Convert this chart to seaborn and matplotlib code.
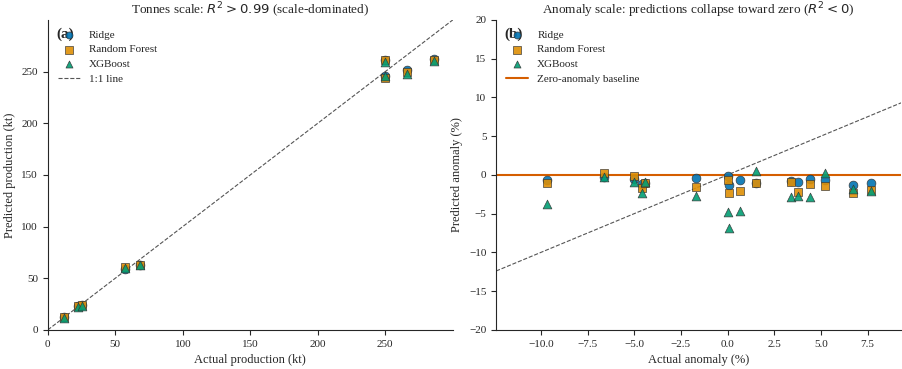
import numpy as np
import pandas as pd
import matplotlib
matplotlib.use("Agg")
import matplotlib.pyplot as plt
import seaborn as sns

# Panel (a): tonnes scale
actual_kt = [12, 22, 25, 57, 68, 250, 250, 266, 286]
ridge_kt = [12, 23, 24, 59, 63, 261, 246, 252, 262]
rf_kt = [12, 23, 24, 61, 63, 261, 244, 250, 261]
xgb_kt = [11.5, 22.5, 23.5, 59.5, 62.5, 259, 245.5, 247.5, 260]

# Panel (b): anomaly scale (%)
actual_anom = [-9.7, -6.6, -5.0, -4.6, -4.4, -1.7, 0.0, 0.1, 0.65, 1.5, 3.4, 3.8, 4.4, 5.2, 6.7, 7.7]
ridge_anom = [-0.6, -0.3, -0.5, -1.2, -1.0, -0.4, -0.1, -1.3, -0.6, -1.0, -0.8, -0.9, -0.5, -0.6, -1.3, -1.0]
rf_anom = [-1.0, 0.3, -0.1, -1.7, -1.0, -1.5, -0.6, -2.3, -2.1, -1.0, -0.9, -2.2, -1.2, -1.4, -2.3, -1.9]
xgb_anom = [-3.8, -0.3, -0.9, -2.3, -0.9, -2.7, -4.8, -6.8, -4.6, 0.5, -2.8, -2.7, -2.8, 0.3, -1.8, -2.1]

models = ["Ridge", "Random Forest", "XGBoost"]
colors = {"Ridge": "#0173b2", "Random Forest": "#de8f05", "XGBoost": "#029e73"}
markers = {"Ridge": "o", "Random Forest": "s", "XGBoost": "^"}

sns.set_style("ticks")
plt.rcParams["font.family"] = ["Liberation Serif", "DejaVu Serif"]
plt.rcParams["mathtext.fontset"] = "dejavusans"


def long_df(actual, preds):
    rows = []
    for m, p in zip(models, preds):
        for a, v in zip(actual, p):
            rows.append({"actual": a, "pred": v, "model": m})
    return pd.DataFrame(rows)


df_a = long_df(actual_kt, [ridge_kt, rf_kt, xgb_kt])
df_b = long_df(actual_anom, [ridge_anom, rf_anom, xgb_anom])

fig, axes = plt.subplots(1, 2, figsize=(9.02, 3.69), dpi=100)
fig.subplots_adjust(left=0.053, right=0.999, top=0.946, bottom=0.106, wspace=0.107)

for ax, df in zip(axes, [df_a, df_b]):
    for m in models:
        sns.scatterplot(data=df[df["model"] == m], x="actual", y="pred", ax=ax,
                        color=colors[m], marker=markers[m], s=40, edgecolor="#333333",
                        linewidth=0.5, alpha=0.9, label=m, zorder=3)

leg_kw = dict(loc="upper left", frameon=False, fontsize=8, labelspacing=0.45,
              markerscale=0.8, handlelength=2.0)

# (a)
ax = axes[0]
lim = 300
ax.plot([0, lim], [0, lim], ls="--", color="#555555", lw=0.8, label="1:1 line", zorder=2)
ax.set_xlim(0, lim)
ax.set_ylim(0, lim)
ax.set_xticks([0, 50, 100, 150, 200, 250])
ax.set_yticks([0, 50, 100, 150, 200, 250])
ax.set_xlabel("Actual production (kt)", fontsize=9)
ax.set_ylabel("Predicted production (kt)", fontsize=9)
ax.set_title("Tonnes scale: $R^2 > 0.99$ (scale-dominated)", fontsize=9.5, pad=2)
ax.legend(**leg_kw)
ax.text(0.02, 0.975, "(a)", transform=ax.transAxes, fontsize=11, fontweight="bold",
        va="top", ha="left")

# (b)
ax = axes[1]
ax.axline((0, 0), slope=1, ls="--", color="#555555", lw=0.8, zorder=2)
ax.axhline(0, color="#d55e00", lw=1.5, label="Zero-anomaly baseline", zorder=2)
ax.set_xlim(-12.4, 9.3)
ax.set_ylim(-20, 20)
ax.set_yticks([-20, -15, -10, -5, 0, 5, 10, 15, 20])
ax.set_xlabel("Actual anomaly (%)", fontsize=9)
ax.set_ylabel("Predicted anomaly (%)", fontsize=9)
ax.set_title("Anomaly scale: predictions collapse toward zero ($R^2 < 0$)", fontsize=9.5, pad=2)
ax.legend(**leg_kw)
ax.text(0.02, 0.975, "(b)", transform=ax.transAxes, fontsize=11, fontweight="bold",
        va="top", ha="left")

for ax in axes:
    ax.tick_params(labelsize=8, length=3.5)
    sns.despine(ax=ax)

fig.savefig("out.png", dpi=100)
